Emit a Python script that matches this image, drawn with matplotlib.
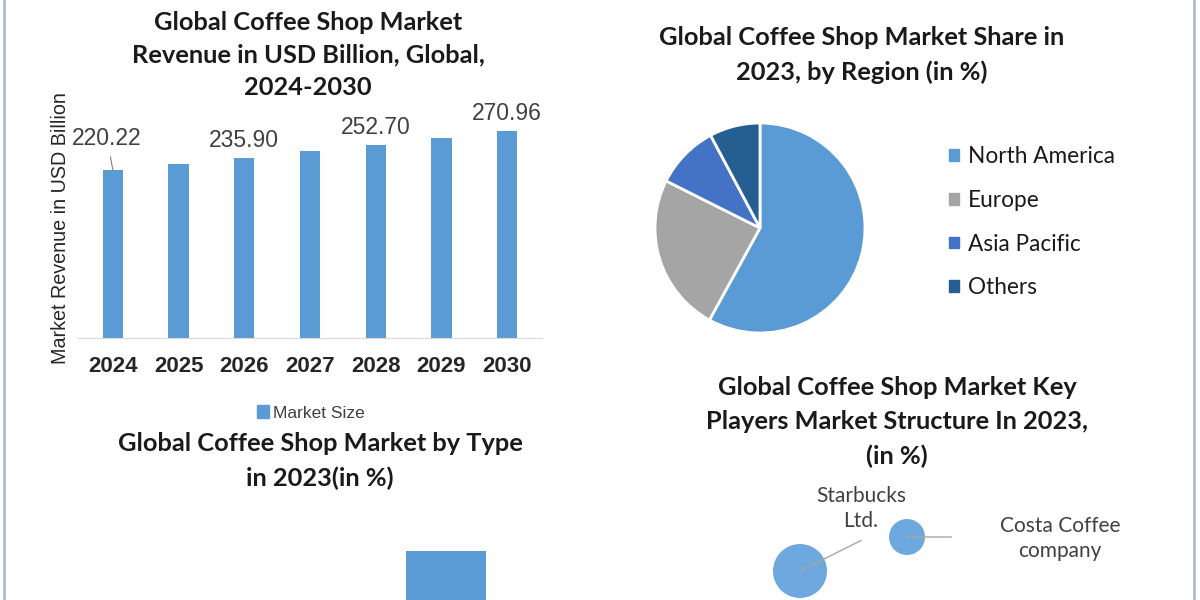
# Global coffee shop market infographic (four panels).

import matplotlib
matplotlib.use("Agg")
import matplotlib.pyplot as plt
from matplotlib.patches import Patch

# ---- data ----
years = ["2024", "2025", "2026", "2027", "2028", "2029", "2030"]
revenue = [220.22, 227.93, 235.90, 244.16, 252.70, 261.67, 270.96]
labelled_years = ["2024", "2026", "2028", "2030"]

regions = ["North America", "Europe", "Asia Pacific", "Others"]
region_share = [58.0, 24.4, 9.8, 7.8]

type_share = [38.0]

players = ["Starbucks\nLtd.", "Costa Coffee\ncompany"]
player_x = [1.0, 2.07]
player_y = [0.29, 0.63]
player_share = [36.0, 16.0]

# ---- styles ----
blue = "#5B9BD5"
pie_colors = ["#5B9BD5", "#A5A5A5", "#4472C4", "#255E91"]
bubble_color = "#6DA8DE"
title_font = "Lato"
arial = "Liberation Sans"
title_size = 18.3

W, H = 1200, 600


def fx(x):
    return x / W


def fy(y):
    return 1 - y / H


def rect(x0, y0, x1, y1):
    # pixel box (top-left origin) -> figure fraction
    return [fx(x0), fy(y1), (x1 - x0) / W, (y1 - y0) / H]


fig = plt.figure(figsize=(12, 6), dpi=100)
fig.patch.set_facecolor("white")

# side border lines
for xb in (3.5, 1193.5):
    fig.add_artist(plt.Line2D([fx(xb), fx(xb)], [0, 1], color="#A9BFD2", linewidth=2.0))

# ---------- revenue bar chart ----------
ax1 = fig.add_axes(rect(78, 100, 542, 338))
xpos = range(len(years))
bars = ax1.bar(xpos, revenue, width=0.31, color=blue)
ax1.set_xlim(-0.53, len(years) - 0.47)
ax1.set_ylim(0, 311.5)
ax1.set_xticks(list(xpos))
ax1.set_xticklabels(years, fontsize=16, fontweight="bold", family=arial, color="#262626")
ax1.tick_params(axis="x", length=0, pad=13)
ax1.set_yticks([])
for s in ["top", "right", "left"]:
    ax1.spines[s].set_visible(False)
ax1.spines["bottom"].set_color("#D9D9D9")
ax1.set_ylabel("Market Revenue in USD Billion", fontsize=14.2, family=arial, color="#262626")
ax1.yaxis.set_label_coords(-0.018, 0.462)

for i, (yr, v) in enumerate(zip(years, revenue)):
    if yr not in labelled_years:
        continue
    if i == 0:
        ax1.annotate(f"{v:.2f}", xy=(i, v), xytext=(-4.3, 22.5), textcoords="offset points",
                     ha="center", va="center", fontsize=16.5, family=arial, color="#404040",
                     arrowprops=dict(arrowstyle="-", color="#7F7F7F", lw=0.8, shrinkA=3, shrinkB=0))
    else:
        ax1.annotate(f"{v:.2f}", xy=(i, v), xytext=(0, 12.5), textcoords="offset points",
                     ha="center", va="center", fontsize=16.5, family=arial, color="#404040")

fig.legend(handles=[Patch(color=blue, label="Market Size")], loc="center",
           bbox_to_anchor=(fx(311), fy(413)), frameon=False, handlelength=0.7, handleheight=0.7,
           handletextpad=0.2, prop=dict(family=arial, size=12.5), labelcolor="#404040")

fig.text(fx(308), fy(55), "Global Coffee Shop Market\nRevenue in USD Billion, Global,\n2024-2030",
         ha="center", va="center", fontsize=title_size, fontweight="bold", family=title_font,
         color="#1a1a1a", linespacing=1.49)

# ---------- region pie ----------
ax2 = fig.add_axes(rect(655, 123, 865, 333))
ax2.pie(region_share, colors=pie_colors, startangle=90, counterclock=False, radius=1,
        wedgeprops=dict(edgecolor="white", linewidth=2))
ax2.set_xlim(-1.0, 1.0)
ax2.set_ylim(-1.0, 1.0)
ax2.set_aspect("equal")

fig.legend(handles=[Patch(color=c, label=r) for c, r in zip(pie_colors, regions)],
           loc="upper left", bbox_to_anchor=(fx(929), fy(126)), frameon=False,
           handlelength=0.42, handleheight=0.42, handletextpad=0.4, labelspacing=1.0,
           prop=dict(family=title_font, size=16.3), labelcolor="#1a1a1a")

fig.text(fx(862), fy(55), "Global Coffee Shop Market Share in\n2023, by Region (in %)",
         ha="center", va="center", fontsize=title_size, fontweight="bold", family=title_font,
         color="#1a1a1a", linespacing=1.58)

# ---------- type chart (cut off at the bottom) ----------
ax3 = fig.add_axes(rect(406, 551, 486, 700))
ax3.bar([0], type_share, width=1.0, color=blue)
ax3.set_xlim(-0.5, 0.5)
ax3.set_ylim(0, type_share[0])
ax3.axis("off")

fig.text(fx(320), fy(461), "Global Coffee Shop Market by Type\nin 2023(in %)",
         ha="center", va="center", fontsize=title_size, fontweight="bold", family=title_font,
         color="#1a1a1a", linespacing=1.58)

# ---------- key players bubbles ----------
ax4 = fig.add_axes(rect(700, 480, 1000, 600))
ax4.set_xlim(0, 3)
ax4.set_ylim(0, 1.2)
ax4.axis("off")
ax4.scatter(player_x, player_y, s=[p * 42 for p in player_share], color=bubble_color,
            edgecolors="none", zorder=2, clip_on=False)
label_offsets = [(44, 45), (110, -1)]
line_ends = [(44, 22), (32, 0)]
for px_, py_, name, off, end in zip(player_x, player_y, players, label_offsets, line_ends):
    ax4.annotate("", xy=(px_, py_), xytext=end, textcoords="offset points",
                 arrowprops=dict(arrowstyle="-", color="#A6A6A6", lw=1, shrinkA=0, shrinkB=0),
                 zorder=3, annotation_clip=False)
    ax4.annotate(name, xy=(px_, py_), xytext=off, textcoords="offset points",
                 ha="center", va="center", fontsize=15, family=title_font, color="#404040",
                 linespacing=1.35, annotation_clip=False)

fig.text(fx(897), fy(422), "Global Coffee Shop Market Key\nPlayers Market Structure In 2023,\n(in %)",
         ha="center", va="center", fontsize=title_size, fontweight="bold", family=title_font,
         color="#1a1a1a", linespacing=1.58)

fig.savefig("out.png", dpi=100, facecolor="white")
